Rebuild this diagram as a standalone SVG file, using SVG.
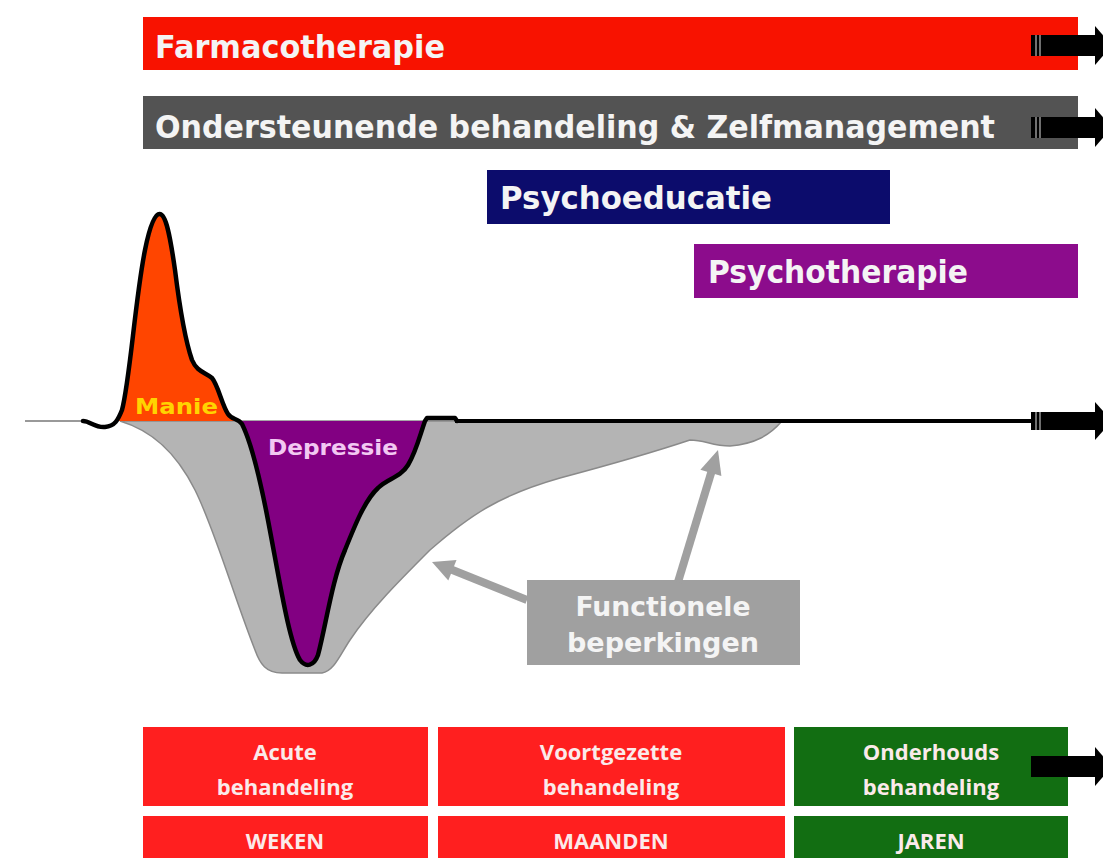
<svg xmlns="http://www.w3.org/2000/svg" width="1103" height="858" viewBox="0 0 1103 858">
<style>
.bar{font-family:"DejaVu Sans","Liberation Sans",sans-serif;font-weight:bold;fill:#f4f4f4}
.lbl{font-family:"DejaVu Sans","Liberation Sans",sans-serif;font-weight:bold}
.box{font-family:"Open Sans","Liberation Sans",sans-serif;font-weight:700;fill:#fbeaea;font-size:22px;text-anchor:middle}
.garrow{stroke:#a0a0a0;stroke-width:8;fill:none}
.ghead{fill:#a0a0a0}
.blk{fill:#000}
</style>
<rect width="1103" height="858" fill="#fff"/>

<g id="farmacotherapie">
<rect x="143" y="17" width="935" height="53" fill="#f81200"/>
<text class="bar" x="155" y="58" font-size="32" textLength="290" lengthAdjust="spacingAndGlyphs">Farmacotherapie</text>
</g>
<g id="ondersteunende">
<rect x="143" y="96" width="935" height="53" fill="#535353"/>
<text class="bar" x="155" y="138" font-size="32" textLength="840" lengthAdjust="spacingAndGlyphs">Ondersteunende behandeling &amp; Zelfmanagement</text>
</g>
<g id="psychoeducatie">
<rect x="487" y="170" width="403" height="54" fill="#0c0c6c"/>
<text class="bar" x="500" y="209" font-size="32" textLength="272" lengthAdjust="spacingAndGlyphs">Psychoeducatie</text>
</g>
<g id="psychotherapie">
<rect x="694" y="244" width="384" height="54" fill="#8c0c8c"/>
<text class="bar" x="708" y="283" font-size="32" textLength="260" lengthAdjust="spacingAndGlyphs">Psychotherapie</text>
</g>

<g id="curve">
<path d="M 120 421 C 150 430 175 450 195 490 C 215 530 235 600 255 650 C 260 664 266 673 282 673 L 322 673 C 334 671 340 655 350 640 C 370 610 400 580 430 550 C 470 515 500 495 560 478 C 620 462 660 450 690 440 C 705 440 712 446 730 446 C 755 444 770 435 782 421 Z" fill="#b4b4b4" stroke="#8a8a8a" stroke-width="1.5"/>
<path d="M 240 421 C 250 440 258 470 266 510 C 278 570 288 640 300 660 C 306 668 314 666 318 655 C 326 625 332 580 345 550 C 355 525 365 500 378 488 C 388 478 400 478 408 465 C 416 452 420 435 425 421 Z" fill="#820082"/>
<path d="M 119 421 C 122 412 124 400 126 385 C 132 340 138 280 146 245 C 150 225 155 213 160 214 C 166 215 170 235 175 270 C 180 310 185 340 192 360 C 197 372 205 372 212 378 C 218 385 222 405 228 414 C 231 418 234 420 237 421 Z" fill="#ff4500"/>
<line x1="25" y1="421" x2="88" y2="421" stroke="#999" stroke-width="2"/>
<path d="M 83 421 C 90 421 95 428 105 427 C 115 426 118 420 122 410 C 130 380 135 300 145 250 C 150 225 155 213 160 214 C 166 215 170 235 175 270 C 180 310 185 340 192 360 C 197 372 205 372 212 378 C 218 385 222 405 228 414 C 232 420 238 418 242 424 C 250 440 258 470 266 510 C 278 570 288 640 300 660 C 306 668 314 666 318 655 C 326 625 332 580 345 550 C 355 525 365 500 378 488 C 388 478 400 478 408 465 C 416 452 420 435 425 421 L 427 418 L 455 418 L 457 421" fill="none" stroke="#000" stroke-width="4.5" stroke-linejoin="round" stroke-linecap="round"/>
<line x1="455" y1="421" x2="1036" y2="421" stroke="#000" stroke-width="4"/>
<text class="lbl" x="135" y="414" font-size="22" fill="#ffd400" textLength="83" lengthAdjust="spacingAndGlyphs">Manie</text>
<text class="lbl" x="268" y="455" font-size="21" fill="#f2c8f2" textLength="130" lengthAdjust="spacingAndGlyphs">Depressie</text>
</g>

<g id="functionele">
<rect x="527" y="580" width="273" height="85" fill="#a0a0a0"/>
<text class="lbl" x="663" y="616" font-size="27" fill="#f4f4f4" text-anchor="middle" textLength="175" lengthAdjust="spacingAndGlyphs">Functionele</text>
<text class="lbl" x="663" y="652" font-size="27" fill="#f4f4f4" text-anchor="middle" textLength="192" lengthAdjust="spacingAndGlyphs">beperkingen</text>
</g>

<g id="acute">
<rect x="143" y="727" width="285" height="79" fill="#ff1f1f"/>
<text class="box" x="285" y="760">Acute</text>
<text class="box" x="285" y="795">behandeling</text>
</g>
<g id="voortgezette">
<rect x="438" y="727" width="347" height="79" fill="#ff1f1f"/>
<text class="box" x="611" y="760">Voortgezette</text>
<text class="box" x="611" y="795">behandeling</text>
</g>
<g id="onderhouds">
<rect x="794" y="727" width="274" height="79" fill="#126e12"/>
<text class="box" x="931" y="760">Onderhouds</text>
<text class="box" x="931" y="795">behandeling</text>
</g>
<g id="weken">
<rect x="143" y="816" width="285" height="50" fill="#ff1f1f"/>
<text class="box" x="285" y="849">WEKEN</text>
</g>
<g id="maanden">
<rect x="438" y="816" width="347" height="50" fill="#ff1f1f"/>
<text class="box" x="611" y="849">MAANDEN</text>
</g>
<g id="jaren">
<rect x="794" y="816" width="274" height="50" fill="#126e12"/>
<text class="box" x="931" y="849">JAREN</text>
</g>

<g id="connectors">
<line class="garrow" x1="527" y1="600" x2="450" y2="569"/>
<polygon class="ghead" points="432,562 456.5,560 448.3,580.4"/>
<line class="garrow" x1="678" y1="582" x2="712" y2="470"/>
<polygon class="ghead" points="718,450 721.4,476.1 700.4,469.7"/>
<g class="blk">
<rect x="1031" y="35" width="68" height="21"/>
<polygon points="1095,26 1112,45.5 1095,65"/>
<rect x="1031" y="117" width="68" height="21"/>
<polygon points="1095,108 1112,127.5 1095,147"/>
<rect x="1031" y="412" width="68" height="18"/>
<polygon points="1095,402 1112,421 1095,440"/>
<rect x="1031" y="756" width="68" height="21"/>
<polygon points="1095,747 1112,766.5 1095,786"/>
</g>
<g stroke="#bbb" stroke-width="1.2">
<line x1="1036" y1="35" x2="1036" y2="56"/><line x1="1040" y1="35" x2="1040" y2="56"/>
<line x1="1036" y1="117" x2="1036" y2="138"/><line x1="1040" y1="117" x2="1040" y2="138"/>
<line x1="1036" y1="412" x2="1036" y2="430"/><line x1="1040" y1="412" x2="1040" y2="430"/>
</g>
</g>
</svg>
